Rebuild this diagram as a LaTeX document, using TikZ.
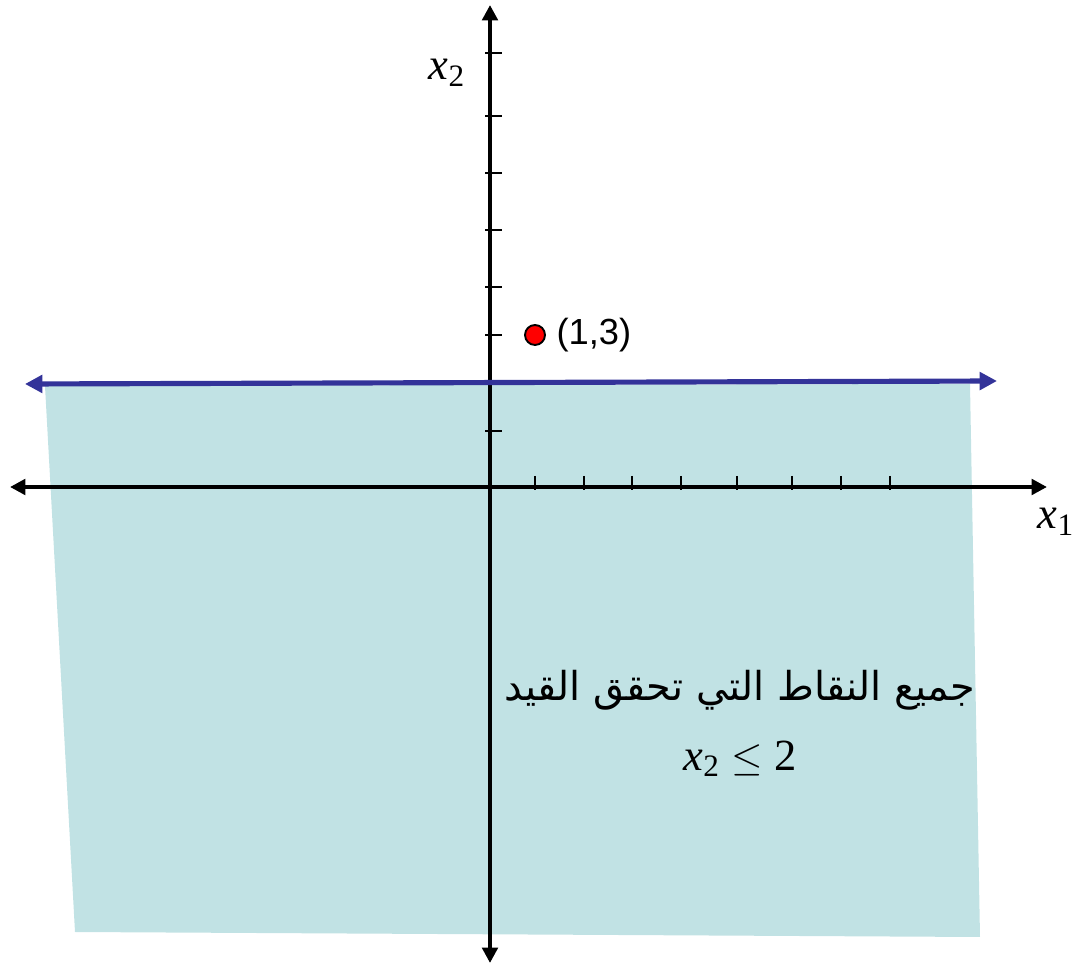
\documentclass[tikz,border=0pt]{standalone}
\usepackage{fontspec}
\usepackage{tikz}
\usetikzlibrary{arrows.meta, positioning}
\TeXXeTstate=1
\setmainfont{Liberation Serif}
\newfontfamily\arabicfont[Script=Arabic]{DejaVu Sans}
\newfontfamily\labelfont{Liberation Sans}
\definecolor{regionteal}{RGB}{193,226,228}
\definecolor{boundblue}{RGB}{51,51,153}
\definecolor{dotred}{RGB}{255,0,0}

\begin{document}
\begin{tikzpicture}[x=0.015cm, y=-0.015cm,
    axis/.style={{Triangle[length=0.23cm, width=0.23cm]}-{Triangle[length=0.23cm, width=0.23cm]},
                 black, line width=1.8pt},
    bound/.style={{Triangle[length=0.26cm, width=0.26cm]}-{Triangle[length=0.26cm, width=0.26cm]},
                  boundblue, line width=2.2pt},
    axtick/.style={black, line width=1pt},
    region/.style={fill=regionteal, draw=none},
    dot/.style={circle, draw=black, fill=dotred, line width=0.8pt,
                minimum size=0.3cm, inner sep=0pt},
    axlabel/.style={font=\fontsize{19}{22}\selectfont}
  ]
    \useasboundingbox (0,0) rectangle (1073,966);

    % feasible region x2 <= 2
    \fill[region] (45,386) -- (970,384) -- (980,937) -- (75,932) -- cycle;

    % axes
    \coordinate (xleft) at (10,487);
    \coordinate (xright) at (1047,487);
    \coordinate (ytop) at (490,5);
    \coordinate (ybottom) at (490,963);
    \draw[axis] (xleft) -- (xright);
    \draw[axis] (ybottom) -- (ytop);

    \foreach \tx in {535,584,632,681,737,792,841,890}
      \draw[axtick] (\tx,476) -- (\tx,490);
    \foreach \ty in {53,116,173,230,287,335,431}
      \draw[axtick] (485,\ty) -- (502,\ty);

    \node[axlabel] at (447,73) (xtwo) {$\mathit{x}_{\mathrm{2}}$};
    \node[axlabel] at (1056,522) (xone) {$\mathit{x}_{\mathrm{1}}$};

    % constraint line
    \coordinate (bleft) at (25,384);
    \coordinate (bright) at (997,381);
    \draw[bound] (bleft) -- (bright);

    % the point (1,3)
    \node[dot] at (535,335) (pt) {};
    \node[right=1pt of pt, font=\labelfont\fontsize{15.5}{18}\selectfont] (ptlabel) {(1,3)};

    % caption in region
    \node at (740,690) (caption)
      {\fontsize{17}{20}\selectfont\arabicfont\beginR جميع النقاط التي تحقق القيد\endR};
    \node[axlabel, below=6pt of caption] (ineq) {$\mathit{x}_{\mathrm{2}} \leq \mathrm{2}$};
  \end{tikzpicture}
\end{document}
